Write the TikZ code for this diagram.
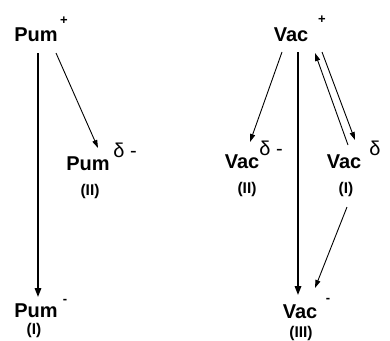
\documentclass[tikz,border=0pt]{standalone}
\usepackage{fontspec}
\setmainfont{Liberation Sans}
\usetikzlibrary{arrows.meta}
\tikzset{
  word/.style={inner sep=0pt, font=\fontsize{20}{20}\selectfont\bfseries},
  supsign/.style={inner sep=0pt, font=\fontsize{13}{13}\selectfont\bfseries},
  delta/.style={inner sep=0pt, font=\fontsize{20}{20}\selectfont},
  roman/.style={inner sep=0pt, font=\fontsize{15.5}{15.5}\selectfont\bfseries},
  thickarr/.style={line width=1.6pt, -{Triangle[length=9pt,width=6.5pt]}},
  thinarr/.style={line width=0.9pt, -{Triangle[length=8pt,width=5pt]}}
}
\begin{document}
\begin{tikzpicture}[x=1pt,y=-1pt]
\useasboundingbox (0,0) rectangle (390,340);
% Pum side
\node[word] (pumP) at (36,35) {Pum};
\node[supsign] (pumPs) at (64,21) {+};
\node[word] (pumII) at (88,164) {Pum};
\node[delta] (pumIIs) at (125,150) {δ -};
\node[roman] (pumIIl) at (90,191) {(II)};
\node[word] (pumI) at (36,311) {Pum};
\node[supsign] (pumIs) at (65,301) {-};
\node[roman] (pumIl) at (34,330) {(I)};
% Vac side
\node[word] (vacP) at (291,35) {Vac};
\node[supsign] (vacPs) at (322,20) {+};
\node[word] (vacII) at (242,162) {Vac};
\node[delta] (vacIIs) at (271,148) {δ -};
\node[roman] (vacIIl) at (247,189) {(II)};
\node[word] (vacI) at (344,162) {Vac};
\node[delta] (vacIs) at (375,148) {δ};
\node[roman] (vacIl) at (346,189) {(I)};
\node[word] (vacIII) at (300,312) {Vac};
\node[supsign] (vacIIIs) at (328,300) {-};
\node[roman] (vacIIIl) at (301,333) {(III)};
% connectors
\draw[thickarr] ([shift={(2,18)}]pumP.center) -- ([shift={(2,-14)}]pumI.center);
\draw[thinarr] ([shift={(20,18)}]pumP.center) -- ([shift={(10,-16)}]pumII.center);
\draw[thickarr] ([shift={(7,17)}]vacP.center) -- ([shift={(-2,-17)}]vacIII.center);
\draw[thinarr] ([shift={(-9,17)}]vacP.center) -- ([shift={(8,-20)}]vacII.center);
\draw[thinarr] ([shift={(4,-17)}]vacI.center) -- ([shift={(24,18)}]vacP.center);
\draw[thinarr] ([shift={(31,17)}]vacP.center) -- ([shift={(11,-22)}]vacI.center);
\draw[thinarr] ([shift={(1,18)}]vacIl.center) -- ([shift={(15,-24)}]vacIII.center);
\end{tikzpicture}
\end{document}
